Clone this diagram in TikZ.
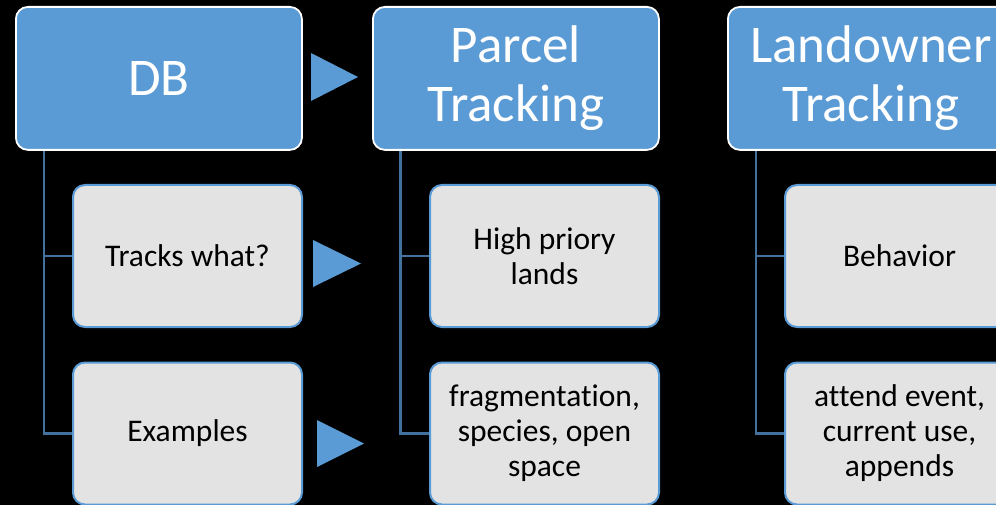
\documentclass[tikz,border=0pt]{standalone}
\usepackage{fontspec}
\setmainfont[Ligatures=NoCommon]{Carlito}
\definecolor{hdrblue}{HTML}{5B9BD5}
\definecolor{boxgray}{HTML}{E3E3E3}
\definecolor{lineblue}{HTML}{41719C}
\begin{document}
\begin{tikzpicture}[x=1pt,y=-1pt,
  header/.style={draw=white, line width=1.8pt, fill=hdrblue, rounded corners=12pt,
    anchor=north west, minimum width=286pt, minimum height=143pt, inner sep=0pt,
    text=white, align=center, font=\fontsize{53}{59}\selectfont},
  child/.style={draw=hdrblue, line width=2pt, fill=boxgray, rounded corners=12pt,
    anchor=north west, minimum width=229pt, minimum height=142pt, inner sep=0pt,
    text=black, align=center, font=\fontsize{31.5}{35}\selectfont},
  conn/.style={draw=lineblue, line width=2.2pt},
  tri/.style={fill=hdrblue}]
\path[use as bounding box, fill=black] (0,0) rectangle (996,505);
\clip (0,0) rectangle (996,505);
% headers
\node[header] (db) at (15,6) {DB};
\node[header] (pt) at (372,6) {Parcel\\Tracking};
\node[header] (lt) at (727,6) {Landowner\\Tracking};
% children
\node[child] (db1) at (72,184) {Tracks what?};
\node[child] (db2) at (72,361.5) {Examples};
\node[child] (pt1) at (429,184) {High priory\\lands};
\node[child] (pt2) at (429,361.5) {fragmentation,\\species, open\\space};
\node[child] (lt1) at (784,184) {Behavior};
\node[child] (lt2) at (784,361.5) {attend event,\\current use,\\appends};
% connectors
\draw[conn] (db.south west) ++(29,0) |- (db1.west);
\draw[conn] (db.south west) ++(29,0) |- (db2.west);
\draw[conn] (pt.south west) ++(28.5,0) |- (pt1.west);
\draw[conn] (pt.south west) ++(28.5,0) |- (pt2.west);
\draw[conn] (lt.south west) ++(29,0) |- (lt1.west);
\draw[conn] (lt.south west) ++(29,0) |- (lt2.west);
% arrows (triangles)
\fill[tri] (311,53) -- (358,77) -- (311,101) -- cycle;
\fill[tri] (313,240) -- (361,263.5) -- (313,287) -- cycle;
\fill[tri] (317,420) -- (364,443.5) -- (317,467) -- cycle;
\end{tikzpicture}
\end{document}
